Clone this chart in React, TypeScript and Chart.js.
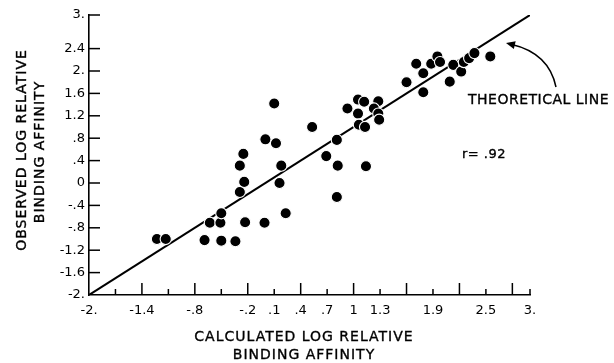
import React, { useEffect, useRef } from "react";
import { Chart, registerables } from "chart.js";

Chart.register(...registerables);

// Calculated (x) and observed (y) log relative binding affinity
const calculated = [
  -1.23, -1.13, -0.69, -0.5, -0.34, -0.63, -0.51, -0.5, -0.23, -0.01,
  0.23, -0.29, -0.24, -0.29, -0.25, 0.16, 0.18, 0.0, 0.12, 0.1,
  0.53, 0.69, 0.81, 0.82, 0.81, 1.14, 0.93, 1.05, 1.12, 1.05,
  1.06, 1.13, 1.28, 1.23, 1.28, 1.29, 1.6, 1.71, 1.79, 1.79,
  1.88, 1.95, 1.98, 2.09, 2.13, 2.22, 2.25, 2.31, 2.37, 2.55,
];
const observed = [
  -1.0, -1.0, -1.02, -1.03, -1.04, -0.71, -0.71, -0.54, -0.7, -0.71,
  -0.54, -0.16, 0.02, 0.31, 0.52, 0.0, 0.31, 0.78, 0.71, 1.42,
  1.0, 0.48, 0.77, 0.31, -0.25, 0.3, 1.33, 1.49, 1.45, 1.24,
  1.04, 1.0, 1.46, 1.33, 1.24, 1.13, 1.8, 2.13, 1.96, 1.62,
  2.13, 2.26, 2.16, 1.81, 2.11, 1.99, 2.16, 2.23, 2.32, 2.26,
];

// Theoretical line (y = x)
const theoryX = [-2, 3];
const theoryY = [-2, 3];

const xTickValues = [-2, -1.7, -1.4, -1.1, -0.8, -0.5, -0.2, 0.1, 0.4, 0.7, 1.0, 1.3, 1.6, 1.9, 2.2, 2.5, 2.8, 3];
const xTickLabels = ["-2.", "", "-1.4", "", "-.8", "", "-.2", ".1", ".4", ".7", "1", "1.3", "", "1.9", "", "2.5", "", "3."];
const xTickTall = [0, 0, 1, 0, 1, 0, 1, 0, 1, 0, 1, 0, 1, 0, 1, 0, 1, 0];

const yTickValues = [-2, -1.6, -1.2, -0.8, -0.4, 0, 0.4, 0.8, 1.2, 1.6, 2.0, 2.4, 3];
const yTickLabels = ["-2.", "-1.6", "-1.2", "-.8", "-.4", "0", ".4", ".8", "1.2", "1.6", "2.", "2.4", "3."];

const xTitle = ["CALCULATED LOG RELATIVE", "BINDING AFFINITY"];
const yTitle = ["OBSERVED LOG RELATIVE", "BINDING AFFINITY"];
const annotationText = "THEORETICAL LINE";
const rText = "r= .92";

const FONT = "'DejaVu Sans', sans-serif";

const decorPlugin = {
  id: "decor",
  afterDraw(chart: any) {
    const ctx = chart.ctx as CanvasRenderingContext2D;
    const xs = chart.scales.x;
    const ys = chart.scales.y;
    const left = xs.left;
    const bottom = ys.bottom;
    ctx.save();
    ctx.strokeStyle = "#000";
    ctx.fillStyle = "#000";
    ctx.lineWidth = 1.5;
    // inward ticks on x axis
    xTickValues.forEach((v, i) => {
      if (i === 0) return;
      const px = xs.getPixelForValue(v);
      const len = xTickTall[i] ? 12 : 6;
      ctx.beginPath();
      ctx.moveTo(px, bottom);
      ctx.lineTo(px, bottom - len);
      ctx.stroke();
    });
    // inward ticks on y axis
    yTickValues.forEach((v, i) => {
      if (i === 0) return;
      const py = ys.getPixelForValue(v);
      ctx.beginPath();
      ctx.moveTo(left, py);
      ctx.lineTo(left + 11, py);
      ctx.stroke();
    });

    // titles
    (ctx as any).letterSpacing = "1px";
    ctx.font = `14px ${FONT}`;
    ctx.textAlign = "center";
    ctx.textBaseline = "middle";
    ctx.lineWidth = 0.35;
    const txt = (s: string, x: number, y: number) => {
      ctx.fillText(s, x, y);
      ctx.strokeText(s, x, y);
    };
    txt(xTitle[0], 304, 337);
    txt(xTitle[1], 304, 355);

    ctx.save();
    ctx.translate(22, 150);
    ctx.rotate(-Math.PI / 2);
    txt(yTitle[0], 0, 0);
    ctx.restore();
    ctx.save();
    ctx.translate(40, 152);
    ctx.rotate(-Math.PI / 2);
    txt(yTitle[1], 0, 0);
    ctx.restore();

    // annotation
    (ctx as any).letterSpacing = "0.5px";
    ctx.font = `14px ${FONT}`;
    ctx.textAlign = "left";
    txt(annotationText, 468, 100);
    ctx.font = `13px ${FONT}`;
    txt(rText, 462, 155);
    (ctx as any).letterSpacing = "0px";

    // arrow
    const sx = 556, sy = 87, cx = 549, cy = 53, ex = 506, ey = 43;
    ctx.lineWidth = 1.5;
    ctx.beginPath();
    ctx.moveTo(sx, sy);
    ctx.quadraticCurveTo(cx, cy, ex + 5, ey + 1.2);
    ctx.stroke();
    const ang = Math.atan2(ey - cy, ex - cx);
    const hl = 9, hw = 4;
    ctx.beginPath();
    ctx.moveTo(ex, ey);
    ctx.lineTo(ex - hl * Math.cos(ang) - hw * Math.sin(ang), ey - hl * Math.sin(ang) + hw * Math.cos(ang));
    ctx.lineTo(ex - hl * Math.cos(ang) + hw * Math.sin(ang), ey - hl * Math.sin(ang) - hw * Math.cos(ang));
    ctx.closePath();
    ctx.fill();
    ctx.restore();
  },
};

export default function App() {
  const canvasRef = useRef<HTMLCanvasElement | null>(null);

  useEffect(() => {
    const canvas = canvasRef.current;
    if (!canvas) return;
    const chart = new Chart(canvas, {
      type: "scatter",
      data: {
        datasets: [
          {
            type: "scatter",
            data: calculated.map((x, i) => ({ x, y: observed[i] })),
            pointRadius: 5.6,
            pointHoverRadius: 5.6,
            pointBackgroundColor: "#000",
            pointBorderColor: "#fff",
            pointBorderWidth: 1.1,
          } as any,
          {
            type: "line",
            data: theoryX.map((x, i) => ({ x, y: theoryY[i] })),
            borderColor: "#000",
            borderWidth: 2,
            pointRadius: 0,
            fill: false,
            showLine: true,
          } as any,
        ],
      },
      options: {
        responsive: false,
        animation: false,
        events: [],
        layout: { padding: { top: 15, right: 84, left: 0, bottom: 0 } },
        plugins: { legend: { display: false }, tooltip: { enabled: false } },
        scales: {
          x: {
            type: "linear",
            min: -2,
            max: 3,
            grid: { display: false, drawTicks: false },
            border: { display: true, color: "#000", width: 1.6 },
            afterBuildTicks: (scale: any) => {
              scale.ticks = xTickValues.map((v) => ({ value: v }));
            },
            afterFit: (scale: any) => {
              scale.height = 68;
            },
            ticks: {
              autoSkip: false,
              maxRotation: 0,
              minRotation: 0,
              padding: 8,
              color: "#000",
              font: { family: FONT, size: 13 },
              callback: (_v: any, i: number) => xTickLabels[i],
            },
          },
          y: {
            type: "linear",
            min: -2,
            max: 3,
            grid: { display: false, drawTicks: false },
            border: { display: true, color: "#000", width: 1.6 },
            afterBuildTicks: (scale: any) => {
              scale.ticks = yTickValues.map((v) => ({ value: v }));
            },
            afterFit: (scale: any) => {
              scale.width = 89;
            },
            ticks: {
              autoSkip: false,
              padding: 4,
              color: "#000",
              font: { family: FONT, size: 13 },
              callback: (_v: any, i: number) => yTickLabels[i],
            },
          },
        },
      },
      plugins: [decorPlugin],
    });
    return () => chart.destroy();
  }, []);

  return (
    <div style={{ position: "absolute", left: 0, top: 0, width: 614, height: 363, background: "#fff" }}>
      <canvas ref={canvasRef} width={614} height={363} />
    </div>
  );
}
